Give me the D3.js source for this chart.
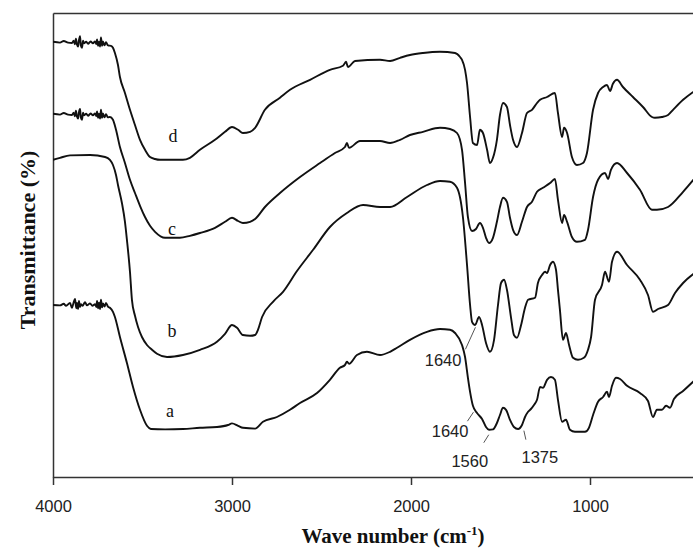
<!DOCTYPE html>
<html>
<head>
<meta charset="utf-8">
<script src="https://cdn.jsdelivr.net/npm/d3@7"></script>
<style>
  html, body { margin: 0; padding: 0; background: #fff; }
  svg { display: block; }
</style>
</head>
<body>
<svg id="chart" width="693" height="551"></svg>
<script>
// FTIR spectra, offset vertically: [wavenumber (cm-1), transmittance]
const seriesA = [[4000,43],[3961,42.9],[3940,43.3],[3927,42.8],[3905,43.5],[3894,42.3],[3885,43.6],[3877,44.5],[3870,42.2],[3866,43.5],[3860,42],[3855,44],[3849,42.5],[3844,43.2],[3835,42.8],[3821,43.7],[3810,42.9],[3793,43.4],[3780,42.8],[3765,43.2],[3758,42.5],[3754,44],[3748,42.2],[3743,43.6],[3737,42],[3732,44.3],[3726,42.4],[3721,43.4],[3712,42.6],[3704,43.5],[3693,42.6],[3682,42.3],[3665,41.3],[3654,40],[3626,35],[3587,28.5],[3553,22.5],[3514,16.8],[3475,12.8],[3453,12],[3374,11.9],[3274,12],[3179,12.3],[3084,12.5],[3022,13],[3000,13.4],[2966,12.8],[2939,12.3],[2871,12.1],[2827,13.8],[2749,15],[2676,16.8],[2620,18.5],[2525,21],[2453,24.3],[2397,27.3],[2369,28],[2358,28.8],[2346,28.3],[2302,30.5],[2246,31.3],[2173,30.5],[2117,31.3],[2078,32.3],[2006,34.3],[1911,36.3],[1838,37],[1782,36.8],[1754,36],[1715,33],[1698,30],[1682,24.8],[1670,21.3],[1654,17.8],[1631,16],[1603,14.5],[1581,12.5],[1564,11.8],[1542,11.9],[1520,13.5],[1503,15.5],[1486,17.3],[1469,16.8],[1447,14.3],[1425,12.5],[1402,12],[1380,13],[1363,15],[1346,16.3],[1330,17],[1313,18],[1296,19.3],[1279,22.5],[1263,22.3],[1240,24.3],[1218,25],[1196,24.3],[1179,19.3],[1156,13.8],[1134,14.3],[1112,11.8],[1084,11.3],[1028,11.3],[1006,12.3],[983,15.5],[955,18.8],[927,20],[905,21.3],[894,20],[877,22.8],[855,24.8],[832,24.5],[793,22.8],[721,21],[676,19],[648,15],[626,16.8],[598,16.8],[575,17.8],[553,17.3],[531,19.5],[480,21.5],[400,24.8]];

const seriesB = [[4000,79.3],[3961,79.8],[3905,80.4],[3793,80.5],[3709,80],[3682,79.3],[3665,78],[3648,75.5],[3637,73],[3615,68.5],[3598,63.8],[3587,59.3],[3570,51.3],[3559,44.3],[3542,40.3],[3525,37.5],[3503,35],[3475,33],[3447,31.8],[3419,30.8],[3363,30],[3274,30.5],[3179,31.8],[3084,33.8],[3039,35.8],[3000,38],[2972,37.3],[2939,35.5],[2899,35.3],[2871,35.5],[2855,36.8],[2832,40],[2771,43.8],[2715,46.3],[2637,51.5],[2547,56.8],[2453,62.5],[2358,66],[2268,68],[2173,67.5],[2117,67.5],[2022,70],[1911,73],[1838,74],[1782,73.8],[1743,72.3],[1710,65],[1687,53],[1670,43],[1659,38.8],[1642,38],[1620,40],[1603,38],[1581,33.5],[1559,31.3],[1536,34.3],[1514,43],[1497,48.5],[1480,49.3],[1464,46.8],[1441,39.8],[1425,35.5],[1408,34.8],[1385,38],[1363,42.3],[1346,44.3],[1307,44.8],[1291,48.5],[1268,50.5],[1251,51.3],[1240,51],[1223,53],[1207,53.8],[1190,51.8],[1179,46.8],[1168,41.8],[1151,34.3],[1134,36],[1117,33],[1095,29.8],[1067,29.3],[1034,29.8],[1011,31.8],[994,35],[972,44.3],[933,48],[916,51.3],[894,48.8],[877,53.8],[849,56.3],[793,53],[721,49.3],[676,45.5],[648,41.3],[620,42],[564,43],[525,46],[480,48.5],[400,51.5]];

const seriesC = [[4000,90.8],[3961,90.6],[3940,91],[3916,90.6],[3894,90.5],[3885,91.1],[3878,90.2],[3872,91.6],[3866,90.1],[3860,89.6],[3855,91.2],[3849,92],[3844,89.8],[3838,89.3],[3832,91.1],[3827,90.4],[3815,90.8],[3804,90.3],[3790,90.9],[3777,90.4],[3765,90.9],[3758,90.2],[3754,91.4],[3748,89.8],[3743,90.8],[3737,89.6],[3732,91.8],[3726,89.8],[3721,90.9],[3712,89.9],[3704,90.7],[3693,89.9],[3682,90],[3665,89.3],[3648,86.8],[3626,82.5],[3598,78.5],[3570,74.3],[3542,71],[3514,67.8],[3486,65],[3458,62.8],[3430,61.3],[3374,59.8],[3291,59.8],[3235,60.3],[3179,61],[3095,62.3],[3039,63.8],[3000,64.8],[2966,64],[2939,63.5],[2899,63.8],[2871,64.5],[2816,67.5],[2732,71],[2620,75],[2508,78.5],[2425,81],[2369,82.5],[2358,83.5],[2346,82.3],[2285,84],[2173,84],[2117,83.5],[2061,84.3],[2006,85.5],[1933,86.3],[1838,87.3],[1782,87],[1743,86],[1715,81.8],[1698,73.5],[1682,65],[1659,61.5],[1637,62],[1615,63.5],[1598,62.3],[1581,59.8],[1564,58.5],[1542,59.8],[1520,63.8],[1503,67.5],[1486,69.8],[1464,68.8],[1447,64.8],[1430,61.8],[1408,60.5],[1380,63.8],[1352,67.5],[1324,68.8],[1296,71.3],[1263,72.3],[1223,73.5],[1196,74.5],[1179,69.3],[1156,63.5],[1145,65.5],[1128,63.8],[1101,60],[1073,58.8],[1028,59.3],[1011,61.8],[983,70],[955,74.3],[916,76],[899,74.5],[883,76.8],[849,78.5],[793,76],[721,71.8],[654,66.8],[626,66.8],[564,67.5],[480,71.3],[400,75.5]];

const seriesD = [[4000,108.8],[3961,108.6],[3940,109],[3916,108.6],[3894,108.5],[3885,109.1],[3878,108.2],[3872,109.6],[3866,108.1],[3860,107.6],[3855,109.2],[3849,110.2],[3844,107.8],[3838,107.3],[3832,109.1],[3827,108.4],[3815,108.8],[3804,108.3],[3790,108.9],[3777,108.4],[3765,108.9],[3758,108.2],[3754,109.4],[3748,107.8],[3743,108.8],[3737,107.6],[3732,109.9],[3726,107.8],[3721,108.9],[3712,107.9],[3704,108.7],[3693,107.9],[3676,107.8],[3665,107.3],[3654,106],[3637,103],[3626,100],[3598,96],[3570,91.8],[3542,88],[3514,84.3],[3486,81.8],[3458,80],[3430,79.5],[3402,79.3],[3346,79.3],[3274,79.3],[3235,79.8],[3179,81.8],[3095,84.3],[3039,86.3],[3000,87.5],[2966,86.8],[2939,86],[2899,86.3],[2871,87.3],[2816,91.8],[2732,94.8],[2676,96.8],[2564,99.3],[2453,101.8],[2380,102.8],[2363,103.8],[2352,102.5],[2313,104],[2173,104.3],[2117,104],[2061,104.8],[2006,105.5],[1933,106],[1838,106.3],[1754,106],[1726,105],[1715,104.3],[1698,101.8],[1687,98.5],[1670,90],[1654,83.5],[1631,83],[1615,86.8],[1598,86],[1575,81.8],[1559,78.5],[1542,79.8],[1520,84.3],[1503,90.5],[1486,93.5],[1464,92.5],[1447,88],[1430,84.3],[1408,82.5],[1380,86],[1352,91],[1324,91.8],[1296,93.5],[1279,94.3],[1240,95],[1196,96],[1179,91],[1156,85],[1145,87.3],[1128,86],[1101,80],[1073,78],[1039,78.5],[1017,81],[983,91.8],[955,96],[927,97.5],[905,98],[888,96.5],[872,98.3],[849,99.3],[816,97.5],[760,95],[704,92.5],[654,90],[637,89.8],[598,90],[564,90.5],[536,91.8],[480,94.3],[400,97]];

const seriesNames = ["a", "b", "c", "d"];
const seriesData = [seriesA, seriesB, seriesC, seriesD];
// label anchor for each spectrum: [wavenumber, transmittance]
const labelAnchors = [[3346, 15], [3335, 35], [3335, 60.5], [3330, 83.75]];

const xTicks = [4000, 3000, 2000, 1000];
const xTickLabels = ["4000", "3000", "2000", "1000"];

// band assignments marked on spectra a and b
const peakSeries = ["b", "a", "a", "a"];
const peakWavenumbers = [1640, 1640, 1560, 1375];
const peakLabels = ["1640", "1640", "1560", "1375"];

const W = 693, H = 551;

const x = d3.scaleLinear().domain([4000, 400]).range([53, 697.4]);
const y = d3.scaleLinear().domain([0, 116]).range([477, 13]);

const svg = d3.select("#chart");
svg.append("rect").attr("width", W).attr("height", H).attr("fill", "#fff");

svg.append("defs").append("clipPath").attr("id", "plot")
  .append("rect").attr("x", 53).attr("y", 13).attr("width", W - 53).attr("height", 464);

// frame: top and left borders
svg.append("g").attr("transform", `translate(0,${y(116)})`)
  .call(d3.axisTop(x).tickValues([]).tickSizeOuter(0))
  .call(g => g.select(".domain").attr("stroke", "#333").attr("stroke-width", 1.5));
svg.append("g").attr("transform", `translate(${x(4000)},0)`)
  .call(d3.axisLeft(y).tickValues([]).tickSizeOuter(0))
  .call(g => g.select(".domain").attr("stroke", "#333").attr("stroke-width", 1.5));

// bottom axis
const xAxis = d3.axisBottom(x)
  .tickValues(xTicks)
  .tickFormat((d, i) => xTickLabels[i])
  .tickSize(8)
  .tickSizeOuter(0)
  .tickPadding(15);
svg.append("g").attr("transform", `translate(0,${y(0)})`)
  .call(xAxis)
  .call(g => g.select(".domain").attr("stroke", "#333").attr("stroke-width", 1.5))
  .call(g => g.selectAll(".tick line").attr("stroke", "#333").attr("stroke-width", 1.5))
  .call(g => g.selectAll(".tick text")
    .attr("fill", "#222")
    .style("font-family", "'Liberation Sans', Arial, sans-serif")
    .style("font-size", "16.5px"));

// spectra
const line = d3.line()
  .x(d => x(d[0]))
  .y(d => y(d[1]))
  .curve(d3.curveMonotoneX);

svg.append("g").attr("clip-path", "url(#plot)")
  .selectAll("path")
  .data(seriesData)
  .join("path")
  .attr("d", line)
  .attr("fill", "none")
  .attr("stroke", "#111")
  .attr("stroke-width", 1.9)
  .attr("stroke-linejoin", "round");

// spectrum letters
svg.append("g")
  .selectAll("text")
  .data(seriesNames)
  .join("text")
  .attr("x", (d, i) => x(labelAnchors[i][0]))
  .attr("y", (d, i) => y(labelAnchors[i][1]))
  .attr("text-anchor", "middle")
  .attr("fill", "#111")
  .style("font-family", "'Liberation Serif', 'Times New Roman', serif")
  .style("font-size", "18px")
  .text(d => d);

// peak markers: leader from the band to its label
function valueAt(series, wn) {
  const s = series.slice().sort((p, q) => p[0] - q[0]);
  const i = d3.bisector(p => p[0]).left(s, wn);
  const p0 = s[Math.max(0, i - 1)], p1 = s[Math.min(s.length - 1, i)];
  if (p1[0] === p0[0]) return p0[1];
  return p0[1] + (p1[1] - p0[1]) * (wn - p0[0]) / (p1[0] - p0[0]);
}
// leader offsets and label placement relative to the band point
const peakLayout = [
  { l0: [0, 3], l1: [-10, 25], tx: [-14, 42], anchor: "end" },
  { l0: [-2, 2], l1: [-8, 11], tx: [-7, 27], anchor: "end" },
  { l0: [-1, 5], l1: [-6, 13], tx: [-20, 37], anchor: "middle" },
  { l0: [1, 8], l1: [3, 17], tx: [17, 40], anchor: "middle" }
];
const peaks = svg.append("g");
peakWavenumbers.forEach((wn, i) => {
  const series = seriesData[seriesNames.indexOf(peakSeries[i])];
  const px = x(wn), py = y(valueAt(series, wn));
  const L = peakLayout[i];
  peaks.append("line")
    .attr("x1", px + L.l0[0]).attr("y1", py + L.l0[1])
    .attr("x2", px + L.l1[0]).attr("y2", py + L.l1[1])
    .attr("stroke", "#555").attr("stroke-width", 1);
  peaks.append("text")
    .attr("x", px + L.tx[0]).attr("y", py + L.tx[1])
    .attr("text-anchor", L.anchor)
    .attr("fill", "#222")
    .style("font-family", "'Liberation Sans', Arial, sans-serif")
    .style("font-size", "16.5px")
    .text(peakLabels[i]);
});

// axis titles
const xTitle = svg.append("text")
  .attr("x", 393).attr("y", 543)
  .attr("text-anchor", "middle")
  .attr("fill", "#111")
  .style("font-family", "'Liberation Serif', 'Times New Roman', serif")
  .style("font-weight", "bold")
  .style("font-size", "21px");
xTitle.append("tspan").text("Wave number (cm");
xTitle.append("tspan").attr("dy", -8).style("font-size", "13px").text("-1");
xTitle.append("tspan").attr("dy", 8).text(")");

svg.append("text")
  .attr("transform", "translate(35,240) rotate(-90)")
  .attr("text-anchor", "middle")
  .attr("fill", "#111")
  .style("font-family", "'Liberation Serif', 'Times New Roman', serif")
  .style("font-weight", "bold")
  .style("font-size", "22px")
  .text("Transmittance (%)");
</script>
</body>
</html>
